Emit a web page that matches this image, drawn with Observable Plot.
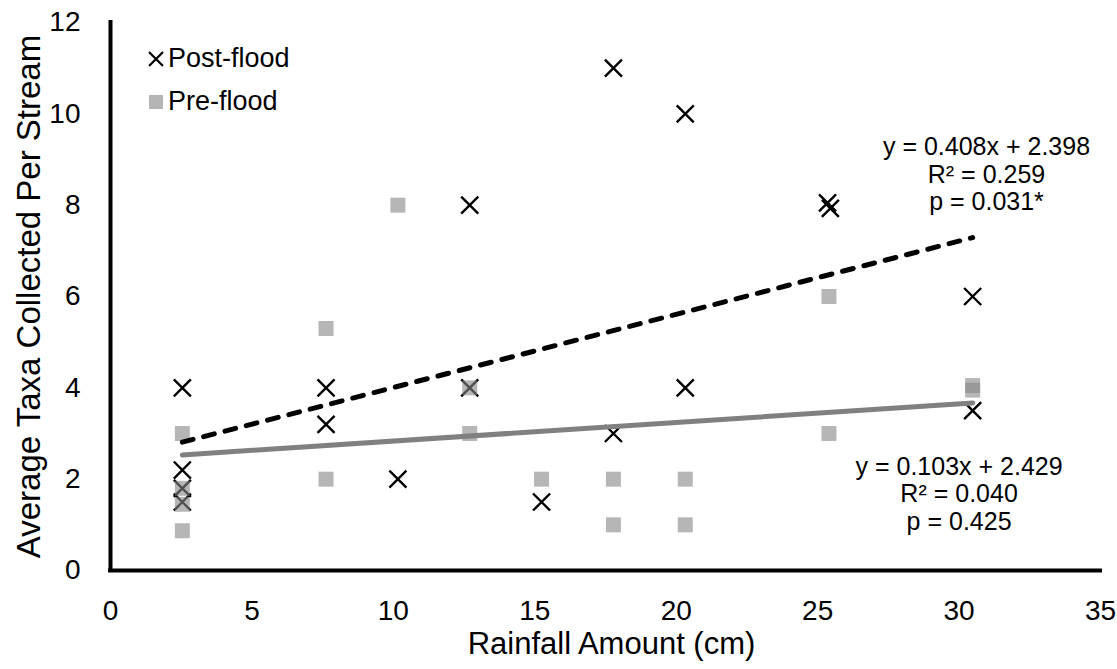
<!DOCTYPE html>
<html>
<head>
<meta charset="utf-8">
<script src="https://cdn.jsdelivr.net/npm/d3@7"></script>
<script src="https://cdn.jsdelivr.net/npm/@observablehq/plot@0.6"></script>
<style>
  body { margin: 0; background: #fff; }
  #wrap { position: relative; width: 1117px; height: 669px; font-family: "Liberation Sans", Arial, sans-serif; }
  #legend { position: absolute; left: 146px; top: 37px; font-size: 27px; color: #000; }
  .item { display: flex; align-items: center; height: 43px; }
  .sym { width: 20px; height: 20px; display: flex; align-items: center; justify-content: center; margin-right: 2px; }
  .sq { width: 14px; height: 14px; background: #b4b4b4; }
</style>
</head>
<body>
<div id="wrap"></div>
<script>
// Rainfall (cm) and average taxa per stream
const postX = [2.54, 2.54, 2.54, 2.54, 7.62, 7.62, 10.16, 12.7, 12.7, 15.24, 17.78, 17.78, 20.32, 20.32, 25.35, 25.45, 30.48, 30.48];
const postY = [4, 2.2, 1.8, 1.5, 4, 3.2, 2, 8, 4, 1.5, 11, 3, 10, 4, 8.05, 7.93, 6, 3.5];
const preX  = [2.54, 2.54, 2.54, 2.54, 7.62, 7.62, 10.16, 12.7, 12.7, 15.24, 17.78, 17.78, 20.32, 20.32, 25.4, 25.4, 30.48, 30.48];
const preY  = [3, 1.8, 1.45, 0.87, 5.3, 2, 8, 4, 3, 2, 2, 1, 2, 1, 6, 3, 4.05, 3.95];
// Linear trendline end points
const trendX = [2.54, 30.48];
const postTrendY = [2.81, 7.29];
const preTrendY = [2.53, 3.67];
const seriesNames = ["Post-flood", "Pre-flood"];
const xTicks = [0, 5, 10, 15, 20, 25, 30, 35];
const yTicks = [0, 2, 4, 6, 8, 10, 12];
const xTitle = "Rainfall Amount (cm)";
const yTitle = "Average Taxa Collected Per Stream";
const postLabel = ["y = 0.408x + 2.398", "R² = 0.259", "p = 0.031*"];
const preLabel = ["y = 0.103x + 2.429", "R² = 0.040", "p = 0.425"];
const labelPos = [{x: 30.97, y: 8.68}, {x: 30.0, y: 1.69}];

const post = postX.map((x, i) => ({x, y: postY[i]}));
const pre = preX.map((x, i) => ({x, y: preY[i]}));
const postTrend = trendX.map((x, i) => ({x, y: postTrendY[i]}));
const preTrend = trendX.map((x, i) => ({x, y: preTrendY[i]}));
const labels = [
  {...labelPos[0], text: postLabel.join("\n")},
  {...labelPos[1], text: preLabel.join("\n")}
];

const chart = Plot.plot({
  width: 1117,
  height: 669,
  marginLeft: 110,
  marginRight: 17,
  marginTop: 22,
  marginBottom: 99,
  style: {fontFamily: "'Liberation Sans', Arial, sans-serif", color: "#000", background: "#fff"},
  x: {domain: [0, 35]},
  y: {domain: [0, 12]},
  marks: [
    Plot.axisX({ticks: xTicks, tickSize: 0, tickPadding: 30, fontSize: 28, label: null}),
    Plot.axisY({ticks: yTicks, tickSize: 0, tickPadding: 30, fontSize: 28, label: null}),
    Plot.text([xTitle], {frameAnchor: "bottom", textAnchor: "middle", dx: 6, dy: 83, fontSize: 31}),
    Plot.text([yTitle], {frameAnchor: "left", textAnchor: "middle", rotate: -90, dx: -81, fontSize: 33}),
    Plot.dot(post, {x: "x", y: "y", symbol: "times", r: 7.8, stroke: "#000", strokeWidth: 2.4}),
    Plot.dot(pre, {x: "x", y: "y", symbol: "square", r: 8.46, fill: "#858585", fillOpacity: 0.6, stroke: "none"}),
    Plot.line(preTrend, {x: "x", y: "y", stroke: "#808080", strokeWidth: 5, strokeLinecap: "round"}),
    Plot.line(postTrend, {x: "x", y: "y", stroke: "#000", strokeWidth: 5, strokeDasharray: "11,11", strokeLinecap: "round"}),
    Plot.text(labels, {x: "x", y: "y", text: "text", fontSize: 25, lineHeight: 1.1, textAnchor: "middle", lineAnchor: "middle"}),
    Plot.ruleY([0], {stroke: "#000", strokeWidth: 4, strokeLinecap: "square"}),
    Plot.ruleX([0], {stroke: "#000", strokeWidth: 4, strokeLinecap: "square"})
  ]
});

const wrap = document.getElementById("wrap");
wrap.appendChild(chart);

const legend = document.createElement("div");
legend.id = "legend";
legend.innerHTML = `
  <div class="item"><div class="sym"><svg width="18" height="18" viewBox="-9 -9 18 18"><path d="M-7,-7L7,7M7,-7L-7,7" stroke="#000" stroke-width="2.2"/></svg></div><span>${seriesNames[0]}</span></div>
  <div class="item"><div class="sym"><div class="sq"></div></div><span>${seriesNames[1]}</span></div>`;
wrap.appendChild(legend);
</script>
</body>
</html>
